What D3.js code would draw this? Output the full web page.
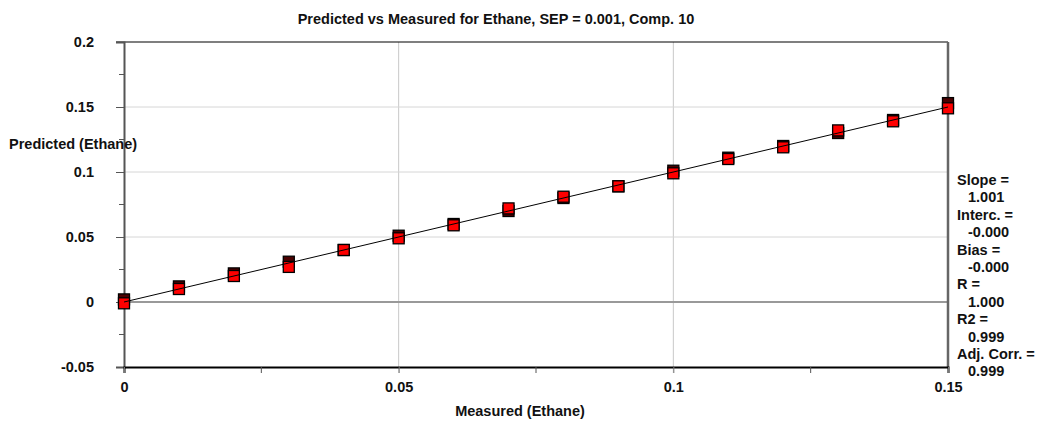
<!DOCTYPE html>
<html>
<head>
<meta charset="utf-8">
<script src="https://cdn.jsdelivr.net/npm/d3@7"></script>
<style>
  html, body { margin: 0; padding: 0; background: #fff; }
  svg text { font-family: Arial, "Liberation Sans", sans-serif; font-weight: bold; fill: #111; }
</style>
</head>
<body>
<svg id="chart" width="1043" height="422"></svg>
<script>
// ---- data ----
const measured   = [0, 0.01, 0.02, 0.03, 0.04, 0.05, 0.06, 0.07, 0.08, 0.09, 0.10, 0.11, 0.12, 0.13, 0.14, 0.15];
const predictedA = [0.002, 0.012, 0.022, 0.031, 0.040, 0.051, 0.060, 0.070, 0.080, 0.089, 0.101, 0.111, 0.120, 0.130, 0.140, 0.153];
const predictedB = [-0.001, 0.010, 0.020, 0.027, 0.040, 0.049, 0.059, 0.072, 0.081, 0.089, 0.099, 0.110, 0.119, 0.132, 0.139, 0.149];
const fitLine    = [[0, 0], [0.15, 0.15]];
const xTicks     = [0, 0.05, 0.10, 0.15];
const xTickLabels = ["0", "0.05", "0.1", "0.15"];
const xMinorTicks = [0.025, 0.075, 0.125];
const yTicks     = [-0.05, 0, 0.05, 0.10, 0.15, 0.20];
const yTickLabels = ["-0.05", "0", "0.05", "0.1", "0.15", "0.2"];
const yMinorTicks = [-0.025, 0.025, 0.075, 0.125, 0.175];
const statsLines = ["Slope =", "1.001", "Interc. =", "-0.000", "Bias =", "-0.000", "R =", "1.000", "R2 =", "0.999", "Adj. Corr. =", "0.999"];
const title = "Predicted vs Measured for Ethane, SEP = 0.001, Comp. 10";
const xTitle = "Measured (Ethane)";
const yTitle = "Predicted (Ethane)";

// ---- layout ----
const L = 124, R = 948, T = 42, B = 367;
const FS = 14.5;
const svg = d3.select("#chart");
const x = d3.scaleLinear().domain([0, 0.15]).range([L, R]);
const y = d3.scaleLinear().domain([-0.05, 0.2]).range([B, T]);

// gridlines
svg.append("g").selectAll("line").data([0.05, 0.10]).join("line")
  .attr("x1", d => x(d)).attr("x2", d => x(d)).attr("y1", T).attr("y2", B + 6)
  .attr("stroke", "#c8c8c8").attr("stroke-width", 1);
svg.append("g").selectAll("line").data([0.05, 0.10, 0.15]).join("line")
  .attr("x1", L).attr("x2", R).attr("y1", d => y(d)).attr("y2", d => y(d))
  .attr("stroke", "#d6d6d6").attr("stroke-width", 1);
// zero line
svg.append("line").attr("x1", L).attr("x2", R).attr("y1", y(0)).attr("y2", y(0))
  .attr("stroke", "#999").attr("stroke-width", 2);

// top border
svg.append("line").attr("x1", L - 8).attr("x2", R).attr("y1", T).attr("y2", T)
  .attr("stroke", "#000").attr("stroke-width", 1.2);
// right border
svg.append("line").attr("x1", R).attr("x2", R).attr("y1", T).attr("y2", B)
  .attr("stroke", "#666").attr("stroke-width", 2.5);

// y axis
const yAxis = d3.axisLeft(y).tickValues(yTicks).tickFormat((d, i) => yTickLabels[i]).tickSize(8).tickPadding(22);
const gy = svg.append("g").attr("transform", `translate(${L},0)`).call(yAxis);
gy.select(".domain").attr("stroke", "#555").attr("stroke-width", 2);
gy.selectAll(".tick line").attr("stroke", "#555");
gy.selectAll(".tick text").attr("font-size", FS).attr("fill", "#111").style("font-weight", "bold");
svg.append("g").selectAll("line").data(yMinorTicks).join("line")
  .attr("x1", L - 5).attr("x2", L).attr("y1", d => y(d)).attr("y2", d => y(d))
  .attr("stroke", "#555");

// x axis
const xAxis = d3.axisBottom(x).tickValues(xTicks).tickFormat((d, i) => xTickLabels[i]).tickSize(6).tickPadding(9);
const gx = svg.append("g").attr("transform", `translate(0,${B})`).call(xAxis);
gx.select(".domain").attr("stroke", "#000").attr("stroke-width", 2);
gx.selectAll(".tick line").attr("stroke", "#777");
gx.selectAll(".tick text").attr("font-size", FS).attr("fill", "#111").style("font-weight", "bold");
svg.append("g").selectAll("line").data(xMinorTicks).join("line")
  .attr("x1", d => x(d)).attr("x2", d => x(d)).attr("y1", B).attr("y2", B + 6)
  .attr("stroke", "#555");

// markers
const S = 11;
const ptsA = measured.map((m, i) => [m, predictedA[i]]);
const ptsB = measured.map((m, i) => [m, predictedB[i]]);
svg.append("g").selectAll("rect").data(ptsA).join("rect")
  .attr("x", d => x(d[0]) - S / 2).attr("y", d => y(d[1]) - S / 2)
  .attr("width", S).attr("height", S)
  .attr("fill", "#4a0000").attr("stroke", "#000").attr("stroke-width", 1.3);
svg.append("g").selectAll("rect").data(ptsB).join("rect")
  .attr("x", d => x(d[0]) - S / 2).attr("y", d => y(d[1]) - S / 2)
  .attr("width", S).attr("height", S)
  .attr("fill", "#ff0000").attr("stroke", "#000").attr("stroke-width", 1.3);

// fit line
svg.append("path").datum(fitLine)
  .attr("d", d3.line().x(d => x(d[0])).y(d => y(d[1])))
  .attr("stroke", "#000").attr("stroke-width", 1).attr("fill", "none");

// titles
svg.append("text").attr("x", 496).attr("y", 24).attr("text-anchor", "middle")
  .attr("font-size", FS).text(title);
svg.append("text").attr("x", 520).attr("y", 416).attr("text-anchor", "middle")
  .attr("font-size", FS).text(xTitle);
svg.append("text").attr("x", 9).attr("y", 149).attr("text-anchor", "start")
  .attr("font-size", FS).text(yTitle);

// stats
svg.append("g").selectAll("text").data(statsLines).join("text")
  .attr("x", (d, i) => i % 2 === 0 ? 957 : 968)
  .attr("y", (d, i) => 185 + i * 17.4)
  .attr("font-size", FS)
  .text(d => d);
</script>
</body>
</html>
